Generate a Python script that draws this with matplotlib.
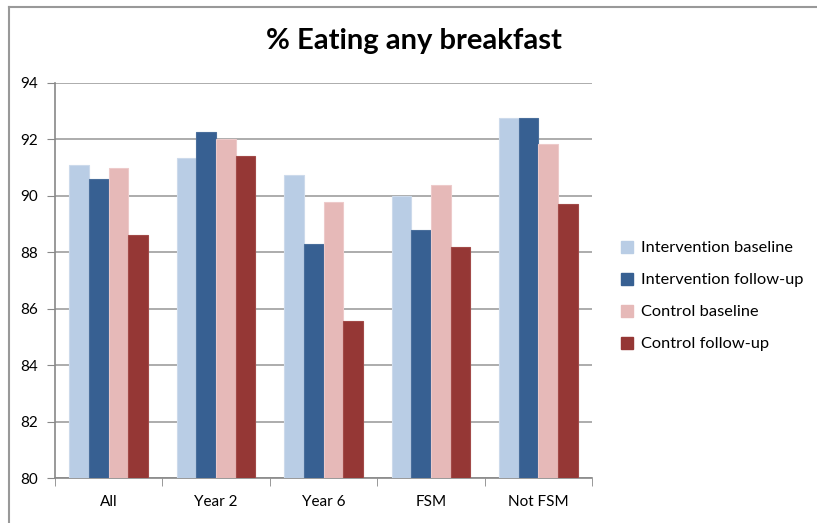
import numpy as np
import matplotlib.pyplot as plt
from matplotlib.lines import Line2D
from matplotlib.patches import Patch

categories = ["All", "Year 2", "Year 6", "FSM", "Not FSM"]
series_names = ["Intervention baseline", "Intervention follow-up",
                "Control baseline", "Control follow-up"]
interv_base = [91.1, 91.35, 90.75, 90.0, 92.75]
interv_follow = [90.6, 92.25, 88.3, 88.8, 92.75]
control_base = [91.0, 92.0, 89.8, 90.4, 91.85]
control_follow = [88.6, 91.4, 85.55, 88.2, 89.7]
values = [interv_base, interv_follow, control_base, control_follow]
colors = ["#B9CDE5", "#376092", "#E6B9B8", "#953735"]
edges = ["#CCDAEB", "#4A6F9C", "#EDCACA", "#A24A48"]

plt.rcParams['font.family'] = ['Lato', 'DejaVu Sans']

fig = plt.figure(figsize=(8.17, 5.23), dpi=100)
ax = fig.add_axes([55 / 817, 1 - 478 / 523, (592 - 55) / 817, (478 - 83) / 523])

x = np.arange(len(categories))
w = 0.73 / 4
for i, (vals, c, e) in enumerate(zip(values, colors, edges)):
    ax.bar(x + (i - 1.5) * w, np.array(vals) - 80, bottom=80, width=w,
           color=c, edgecolor=e, linewidth=0.8, zorder=3)

ax.set_xlim(-0.5, len(categories) - 0.5)
ax.set_ylim(80, 94)
ax.set_yticks(range(80, 95, 2))
ax.yaxis.grid(True, color="#A6A6A6", linewidth=1.3, zorder=0)
ax.set_xticks(x)
ax.set_xticklabels(categories)
ax.set_xticks(np.arange(-0.5, len(categories)), minor=True)
ax.tick_params(axis="x", which="major", length=0, pad=12, labelsize=11)
ax.tick_params(axis="x", which="minor", length=6, color="#888888", direction="out")
ax.tick_params(axis="y", length=6, color="#888888", labelsize=11, pad=6)
for s in ["top", "right"]:
    ax.spines[s].set_visible(False)
for s in ["left", "bottom"]:
    ax.spines[s].set_color("#888888")
    ax.spines[s].set_linewidth(1.2)

fig.text(414 / 817, 1 - 41 / 523, "% Eating any breakfast", ha="center", va="center",
         fontsize=21, fontweight="bold")

handles = [Patch(facecolor=c, edgecolor=c) for c in colors]
fig.legend(handles, series_names, loc="upper left",
           bbox_to_anchor=(606 / 817, 1 - 226 / 523), frameon=False,
           fontsize=11.8, handlelength=0.75, handleheight=0.75,
           handletextpad=0.5, labelspacing=1.05)

fig.add_artist(Line2D([9 / 817, 1], [1 - 7 / 523] * 2, color="#999999", linewidth=1.5))
fig.add_artist(Line2D([9 / 817] * 2, [0, 1 - 7 / 523], color="#999999", linewidth=1.5))

fig.savefig("out.png", dpi=100)
